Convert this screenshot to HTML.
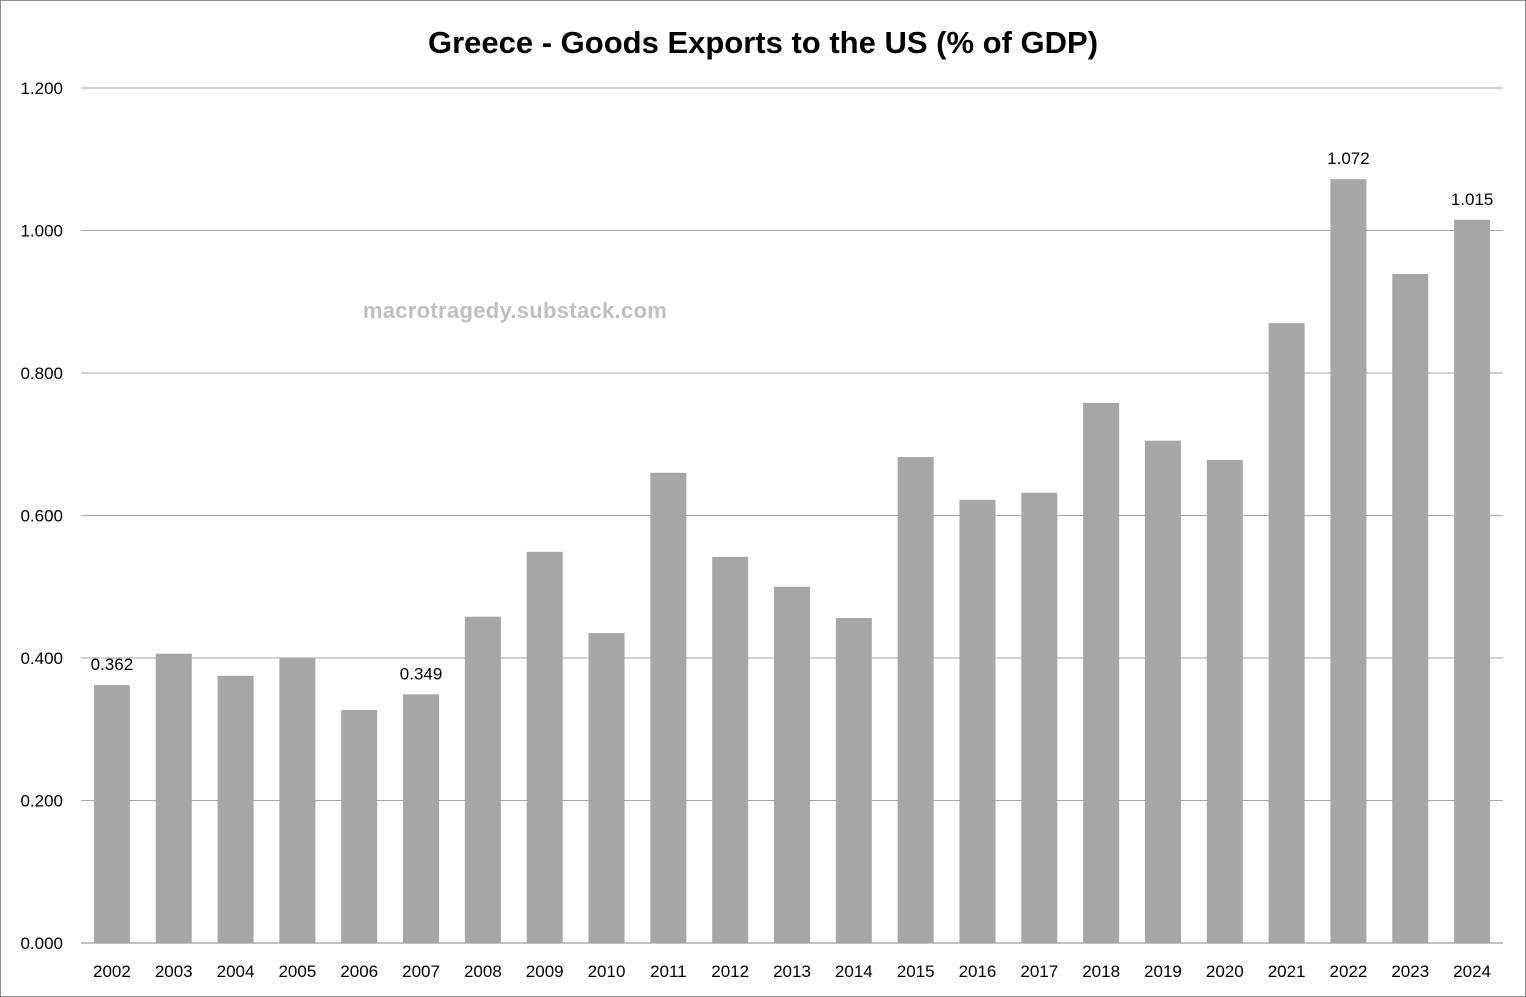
<!DOCTYPE html>
<html><head><meta charset="utf-8"><style>
html,body{margin:0;padding:0;background:#fff;}
svg{display:block;font-family:"Liberation Sans",sans-serif;}
</style></head><body>
<svg id="chart" width="1526" height="997">
<rect x="0.5" y="0.5" width="1525" height="996" fill="#fff" stroke="#8c8c8c"/>
<text x="763" y="53" text-anchor="middle" font-size="31" font-weight="bold" fill="#000">Greece - Goods Exports to the US (% of GDP)</text>
<text x="515" y="318" text-anchor="middle" font-size="22" font-weight="bold" letter-spacing="0.3" fill="#bfbfbf">macrotragedy.substack.com</text>
<g id="grid"></g><g id="bars"></g><g id="labels"></g>
</svg>
<script>
const categories=["2002","2003","2004","2005","2006","2007","2008","2009","2010","2011","2012","2013","2014","2015","2016","2017","2018","2019","2020","2021","2022","2023","2024"];
const values=[0.362,0.406,0.375,0.400,0.327,0.349,0.458,0.549,0.435,0.660,0.542,0.500,0.456,0.682,0.622,0.632,0.758,0.705,0.678,0.870,1.072,0.939,1.015];
const yTicks=[0,0.2,0.4,0.6,0.8,1.0,1.2];
const labeled=["2002","2007","2022","2024"];
const NS="http://www.w3.org/2000/svg";
const x0=81,x1=1503,yBase=943,yTop=88,yMax=1.2;
const y=v=>yBase-(v/yMax)*(yBase-yTop);
const step=(x1-x0)/categories.length;
const xc=i=>x0+step*(i+0.5);
const bw=36;
function mk(tag,attrs,parent){const e=document.createElementNS(NS,tag);for(const k in attrs)e.setAttribute(k,attrs[k]);parent.appendChild(e);return e;}
const grid=document.getElementById('grid'),bars=document.getElementById('bars'),labels=document.getElementById('labels');
yTicks.forEach(t=>{
  const l=mk('line',{x1:x0,x2:x1,y1:y(t),y2:y(t),stroke:t===0?'#868686':'#a6a6a6','stroke-width':1},grid);
  
  
  const tx=mk('text',{x:63,y:y(t)+6,'text-anchor':'end','font-size':17,fill:'#000'},grid);
  tx.textContent=t.toFixed(3);
  
  
});
categories.forEach((c,i)=>{
  const r=mk('rect',{x:xc(i)-bw/2,y:y(values[i]),width:bw,height:yBase-y(values[i]),fill:'#a6a6a6'},bars);
  
  
  const tx=mk('text',{x:xc(i),y:977,'text-anchor':'middle','font-size':17,fill:'#000'},labels);
  tx.textContent=c;
  
  
  if(labeled.includes(c)){
    const d=mk('text',{x:xc(i),y:y(values[i])-15,'text-anchor':'middle','font-size':17,fill:'#000'},labels);
    d.textContent=values[i].toFixed(3);
    
    
  }
});
</script>
</body></html>
